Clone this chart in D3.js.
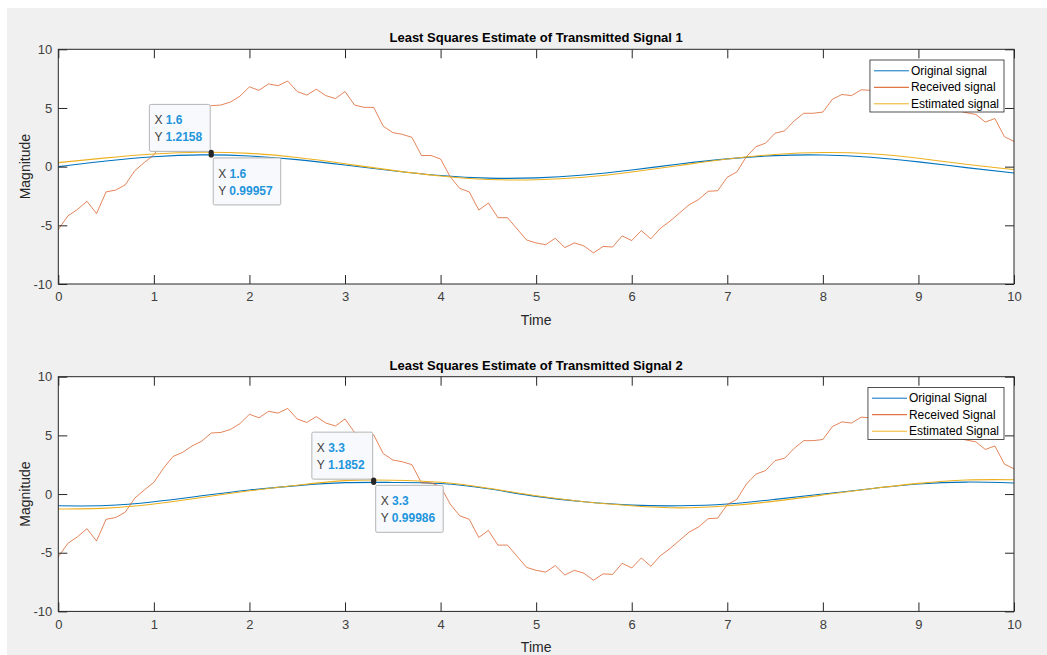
<!DOCTYPE html>
<html>
<head>
<meta charset="utf-8">
<script src="https://cdn.jsdelivr.net/npm/d3@7"></script>
<style>
  body { margin: 0; background: #fff; }
  text { font-family: "Liberation Sans", Arial, Helvetica, sans-serif; }
</style>
</head>
<body>
<svg id="chart"></svg>
<script>
// sample grid of the received signal (t = 0:0.1:10) and of the smooth signals (t = 0:0.5:10)
var times = d3.range(0, 101).map(function(i) { return i / 10; });
var coarse_times = d3.range(0, 21).map(function(i) { return i / 2; });

// received signal, same in both panels
var received = [
  -5.35, -4.2, -3.65, -2.95, -4.0, -2.15, -2.0, -1.55, -0.35, 0.35,
  1.0, 2.2, 3.2, 3.55, 4.1, 4.5, 5.2, 5.25, 5.5, 6.0,
  6.8, 6.5, 7.05, 6.9, 7.3, 6.4, 6.1, 6.6, 6.05, 5.8,
  6.4, 5.25, 5.05, 5.05, 3.45, 2.9, 2.75, 2.5, 0.95, 0.95,
  0.65, -0.85, -1.85, -2.15, -3.7, -3.1, -4.35, -4.35, -5.3, -6.25,
  -6.5, -6.65, -6.1, -6.9, -6.5, -6.75, -7.35, -6.8, -6.85, -5.9,
  -6.3, -5.45, -6.15, -5.25, -4.65, -3.95, -3.25, -2.8, -2.1, -2.05,
  -0.9, -0.45, 0.85, 1.7, 2.0, 2.85, 3.05, 3.9, 4.55, 4.55,
  4.65, 5.75, 6.15, 6.05, 6.55, 6.5, 6.2, 6.3, 5.9, 6.1,
  5.6, 5.7, 5.2, 5.3, 4.8, 4.6, 4.45, 3.8, 4.1, 2.55,
  2.15
];

var original_1 = [0.0, 0.48, 0.84, 1.0, 0.91, 0.6, 0.14, -0.35, -0.76, -0.98, -0.96,
                  -0.71, -0.28, 0.22, 0.66, 0.94, 0.99, 0.8, 0.41, -0.08, -0.54];
var estimated_1 = [0.34, 0.75, 1.08, 1.23, 1.13, 0.78, 0.25, -0.32, -0.8, -1.1, -1.12,
                   -0.9, -0.45, 0.1, 0.65, 1.04, 1.2, 1.1, 0.72, 0.2, -0.25];
var original_2 = [-1.0, -0.98, -0.65, -0.15, 0.34, 0.72, 0.97, 0.99, 0.9, 0.45, -0.2,
                  -0.65, -0.94, -1.0, -0.85, -0.45, 0.0, 0.45, 0.85, 1.02, 0.94];
var estimated_2 = [-1.28, -1.2, -0.85, -0.3, 0.28, 0.75, 1.14, 1.18, 1.0, 0.5, -0.15,
                   -0.65, -1.0, -1.18, -1.0, -0.6, -0.08, 0.45, 0.91, 1.2, 1.22];

var titles = ["Least Squares Estimate of Transmitted Signal 1", "Least Squares Estimate of Transmitted Signal 2"];
var legend_labels = [
  ["Original signal", "Received signal", "Estimated signal"],
  ["Original Signal", "Received Signal", "Estimated Signal"]
];
var tip_x = [1.6, 3.3];
var tip_est = ["1.2158", "1.1852"];
var tip_orig = ["0.99957", "0.99986"];

var colors = ["#0072BD", "#D95319", "#EDB120"];
var x_ticks = d3.range(0, 11);
var y_ticks = [-10, -5, 0, 5, 10];

var margin = {left: 58.3, right: 1014};
var panel_tops = [49.3, 376.7];
var panel_height = 234.7;

var svg = d3.select("#chart")
  .attr("width", 1047)
  .attr("height", 655);

svg.append("rect")
  .attr("x", 7).attr("y", 8)
  .attr("width", 1040).attr("height", 647)
  .attr("fill", "#f0f0f0");

function draw_panel(idx, orig, est) {
  var top = panel_tops[idx];
  var bottom = top + panel_height;
  var x = d3.scaleLinear().domain([0, 10]).range([margin.left, margin.right]);
  var y = d3.scaleLinear().domain([-10, 10]).range([bottom, top]);
  var g = svg.append("g");

  g.append("rect")
    .attr("x", margin.left).attr("y", top)
    .attr("width", margin.right - margin.left).attr("height", panel_height)
    .attr("fill", "#fff");

  var line = d3.line()
    .x(function(d) { return x(d[0]); })
    .y(function(d) { return y(d[1]); });
  var smooth = d3.line()
    .x(function(d) { return x(d[0]); })
    .y(function(d) { return y(d[1]); })
    .curve(d3.curveNatural);

  g.append("path")
    .datum(coarse_times.map(function(t, i) { return [t, orig[i]]; }))
    .attr("d", smooth)
    .attr("fill", "none").attr("stroke", colors[0]).attr("stroke-width", 1.1);
  g.append("path")
    .datum(times.map(function(t, i) { return [t, received[i]]; }))
    .attr("d", line)
    .attr("fill", "none").attr("stroke", colors[1]).attr("stroke-width", 0.9)
    .attr("stroke-opacity", 0.8);
  g.append("path")
    .datum(coarse_times.map(function(t, i) { return [t, est[i]]; }))
    .attr("d", smooth)
    .attr("fill", "none").attr("stroke", colors[2]).attr("stroke-width", 1.1);

  // axes with inward ticks on all four sides
  var ax_color = "#262626";
  g.append("g")
    .attr("transform", "translate(0," + bottom + ")")
    .call(d3.axisBottom(x).tickValues(x_ticks).tickSizeInner(-9).tickSizeOuter(0).tickPadding(8)
      .tickFormat(function(d) { return String(d); }));
  g.append("g")
    .attr("transform", "translate(0," + top + ")")
    .call(d3.axisTop(x).tickValues(x_ticks).tickSizeInner(-9).tickSizeOuter(0).tickFormat(""));
  g.append("g")
    .attr("transform", "translate(" + margin.left + ",0)")
    .call(d3.axisLeft(y).tickValues(y_ticks).tickSizeInner(-9).tickSizeOuter(0).tickPadding(6)
      .tickFormat(function(d) { return String(d); }));
  g.append("g")
    .attr("transform", "translate(" + margin.right + ",0)")
    .call(d3.axisRight(y).tickValues(y_ticks).tickSizeInner(-9).tickSizeOuter(0).tickFormat(""));
  g.selectAll(".domain").remove();
  g.selectAll(".tick line").attr("stroke", ax_color);
  g.selectAll(".tick text")
    .attr("fill", "#404040")
    .style("font-size", "13px")
    .style("font-family", "'Liberation Sans', Arial, sans-serif");

  g.append("rect")
    .attr("x", margin.left).attr("y", top)
    .attr("width", margin.right - margin.left).attr("height", panel_height)
    .attr("fill", "none").attr("stroke", ax_color).attr("stroke-width", 1);

  g.append("text")
    .attr("x", (margin.left + margin.right) / 2).attr("y", top - 7)
    .attr("text-anchor", "middle")
    .style("font-size", "13px").style("font-weight", "bold")
    .attr("fill", "#000")
    .text(titles[idx]);

  g.append("text")
    .attr("x", (margin.left + margin.right) / 2).attr("y", bottom + 41)
    .attr("text-anchor", "middle")
    .style("font-size", "14px").attr("fill", "#262626")
    .text("Time");

  g.append("text")
    .attr("transform", "translate(30," + (top + panel_height / 2) + ") rotate(-90)")
    .attr("text-anchor", "middle")
    .style("font-size", "14px").attr("fill", "#262626")
    .text("Magnitude");

  // legend
  var legend = g.append("g");
  var leg_box = legend.append("rect")
    .attr("fill", "#fff").attr("stroke", ax_color).attr("stroke-width", 0.8);
  var widest = 0;
  legend_labels[idx].forEach(function(label, i) {
    var row_y = top + 21.5 + i * 16.5;
    legend.append("line")
      .attr("x1", 0).attr("x2", 35)
      .attr("y1", row_y).attr("y2", row_y)
      .attr("stroke", colors[i]).attr("stroke-width", 1);
    var t = legend.append("text")
      .attr("x", 37).attr("y", row_y + 4)
      .style("font-size", "12px").attr("fill", "#000")
      .text(label);
    widest = Math.max(widest, t.node().getComputedTextLength());
  });
  var box_w = 37 + widest + 5 + 4;
  leg_box.attr("x", -4).attr("y", top + 10.7).attr("width", box_w).attr("height", 52);
  legend.attr("transform", "translate(" + (margin.right - 10 - box_w + 4) + ",0)");

  // data tips
  var px = x(tip_x[idx]);
  var p_est = y(+tip_est[idx]);
  var p_orig = y(+tip_orig[idx]);
  add_tip(g, px, p_est, tip_est[idx], true);
  add_tip(g, px, p_orig, tip_orig[idx], false);
  g.append("circle").attr("cx", px).attr("cy", p_orig).attr("r", 2.6).attr("fill", "#262626");
  g.append("circle").attr("cx", px).attr("cy", p_est).attr("r", 2.6).attr("fill", "#262626");

  function add_tip(g, px, py, yval, above) {
    var tip = g.append("g");
    var box = tip.append("rect")
      .attr("fill", "#f8f9fc").attr("fill-opacity", 0.96)
      .attr("stroke", "#b4b4b4").attr("stroke-width", 1).attr("rx", 1.5);
    var rows = [["X ", String(tip_x[idx])], ["Y ", yval]];
    var widest = 0;
    rows.forEach(function(r, i) {
      var t = tip.append("text")
        .attr("x", 5).attr("y", 20 + i * 16.7)
        .style("font-size", "12px");
      t.append("tspan").attr("fill", "#404040").text(r[0]);
      t.append("tspan").attr("fill", "#1f95dc").style("font-weight", "bold").text(r[1]);
      widest = Math.max(widest, t.node().getComputedTextLength());
    });
    var w = widest + 13;
    var h = 47;
    box.attr("x", 0).attr("y", 0).attr("width", w).attr("height", h);
    if (above) {
      tip.attr("transform", "translate(" + (px - 1 - w) + "," + (py - 1 - h) + ")");
    } else {
      tip.attr("transform", "translate(" + (px + 2) + "," + (py + 3) + ")");
    }
  }
}

draw_panel(0, original_1, estimated_1);
draw_panel(1, original_2, estimated_2);
</script>
</body>
</html>
